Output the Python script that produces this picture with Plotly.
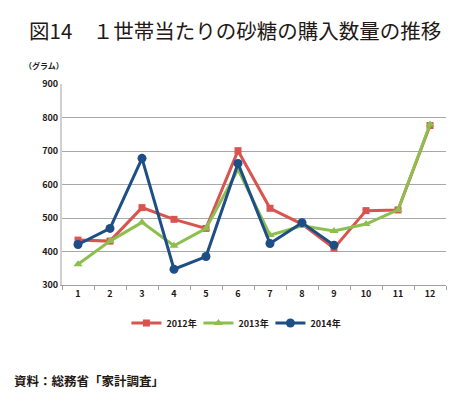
import plotly.graph_objects as go

months = ["1", "2", "3", "4", "5", "6", "7", "8", "9", "10", "11", "12"]
y2012 = [434, 431, 531, 496, 469, 701, 529, 482, 410, 522, 524, 776]
y2013 = [362, 431, 487, 417, 469, 645, 449, 477, 461, 482, 524, 779]
y2014 = [421, 469, 678, 347, 385, 663, 424, 486, 419]
series_names = ["2012年", "2013年", "2014年"]
yticks = [300, 400, 500, 600, 700, 800, 900]

FONT = "Noto Sans CJK JP"
TXT = "#231815"
fig = go.Figure()
fig.add_trace(go.Scatter(x=months, y=y2012, name=series_names[0], mode="lines+markers",
                         line=dict(color="#D9534F", width=3),
                         marker=dict(symbol="square", size=7, color="#D9534F")))
fig.add_trace(go.Scatter(x=months, y=y2013, name=series_names[1], mode="lines+markers",
                         line=dict(color="#8DBF4F", width=3),
                         marker=dict(symbol="triangle-up", size=8, color="#8DBF4F")))
fig.add_trace(go.Scatter(x=months[:len(y2014)], y=y2014, name=series_names[2], mode="lines+markers",
                         line=dict(color="#1E4E86", width=3),
                         marker=dict(symbol="circle", size=9, color="#1E4E86")))

fig.update_layout(
    width=462, height=388,
    margin=dict(l=54, r=24, t=76, b=111),
    paper_bgcolor="white", plot_bgcolor="white",
    font=dict(family=FONT, color=TXT),
    showlegend=True,
    legend=dict(orientation="h", x=0.449, xanchor="center", y=-0.189, yanchor="middle",
                font=dict(size=9, family=FONT, color=TXT, weight=700),
                itemwidth=30, entrywidth=27, entrywidthmode="pixels", tracegroupgap=0),
    xaxis=dict(type="category", tickson="boundaries", ticks="outside", ticklen=4,
               tickcolor="#a0a0a0", showline=True, linecolor="#a0a0a0", linewidth=1,
               showgrid=False, tickfont=dict(size=9, family=FONT, color=TXT, weight=700),
               range=[-0.5, 11.5]),
    yaxis=dict(range=[300, 900], tickvals=yticks, ticks="outside", ticklen=0,
               showline=True, linecolor="#d0d0d0", linewidth=2,
               showgrid=True, gridcolor="#a8a8a8", gridwidth=1, zeroline=False,
               tickfont=dict(size=9, family=FONT, color=TXT, weight=700)),
    annotations=[
        dict(text="図14　１世帯当たりの砂糖の購入数量の推移", xref="paper", yref="paper",
             x=-0.091, y=1.269, xanchor="left", yanchor="middle", showarrow=False,
             font=dict(size=20.5, family=FONT, color=TXT, weight=400)),
        dict(text="<b>（グラム）</b>", xref="paper", yref="paper", x=-0.104, y=1.09,
             xanchor="left", yanchor="middle", showarrow=False,
             font=dict(size=8, family=FONT, color=TXT)),
        dict(text="<b>資料：総務省「家計調査」</b>", xref="paper", yref="paper", x=-0.13, y=-0.473,
             xanchor="left", yanchor="middle", showarrow=False,
             font=dict(size=12.5, family=FONT, color=TXT)),
    ],
)
fig.write_html("out.html")
